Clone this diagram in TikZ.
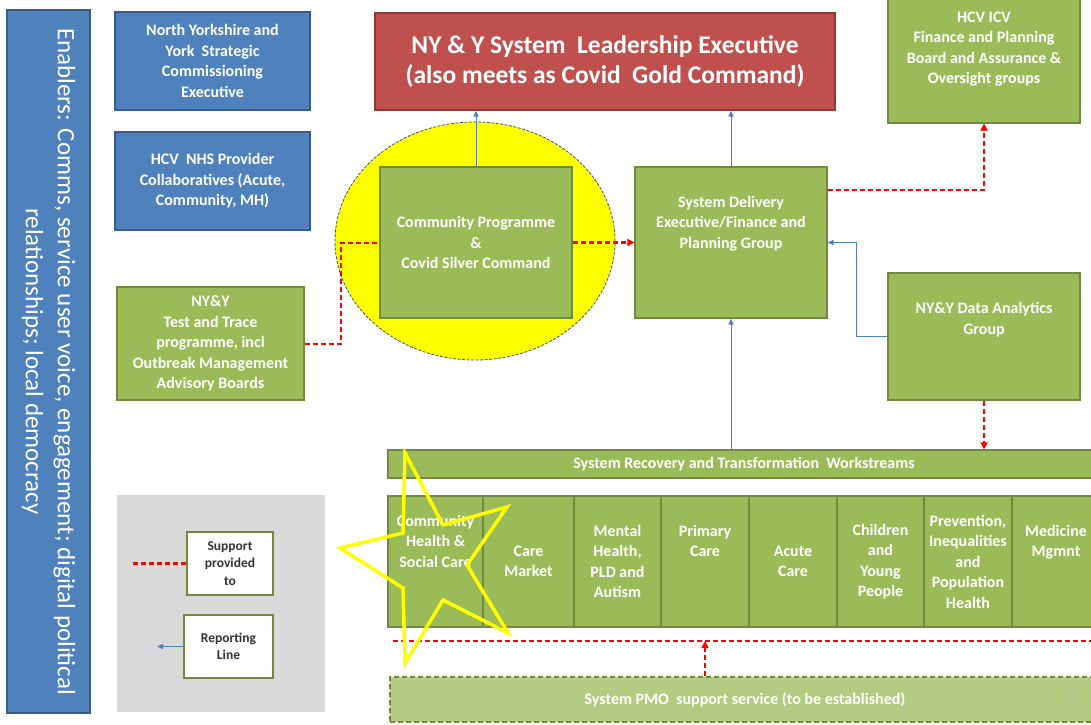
\documentclass[tikz,border=0pt]{standalone}
\usepackage{fontspec}
\setmainfont{Carlito}
\usetikzlibrary{arrows.meta,calc,shapes.geometric}

\definecolor{blfill}{HTML}{4F81BD}
\definecolor{blline}{HTML}{385D8A}
\definecolor{rdfill}{HTML}{C0504D}
\definecolor{rdline}{HTML}{8C3836}
\definecolor{grfill}{HTML}{9BBB59}
\definecolor{grline}{HTML}{71893F}
\definecolor{pmofill}{HTML}{B3CC82}
\definecolor{legfill}{HTML}{D9D9D9}
\definecolor{supred}{HTML}{FF0000}
\definecolor{ringline}{HTML}{44546A}
\definecolor{starline}{HTML}{FFFF00}

\tikzset{
  box/.style={rectangle, inner sep=0pt, align=center, text=white, line width=1.2pt,
    font=\bfseries\fontsize{16}{20.5}\selectfont},
  bluebox/.style={box, fill=blfill, draw=blline},
  greenbox/.style={box, fill=grfill, draw=grline},
  redbox/.style={box, fill=rdfill, draw=rdline, font=\bfseries\fontsize{25.5}{30}\selectfont},
  keybox/.style={box, fill=white, draw=grline, line width=1.6pt, text=black!80,
    font=\bfseries\fontsize{13.5}{17.5}\selectfont},
  report/.style={draw=blfill, line width=0.9pt, -{Triangle[length=6pt,width=5pt]}},
  support/.style={draw=supred, line width=2pt, dash pattern=on 5pt off 3pt},
  supportarrow/.style={support, -{Triangle[length=7pt,width=7pt]}},
}

\begin{document}
\begin{tikzpicture}[x=1pt,y=-1pt]
\clip (0,0) rectangle (1091,724);
\fill[white] (0,0) rectangle (1091,724);

% enablers column
\node[bluebox, minimum width=83, minimum height=703] (enab) at (48.5,361.5) {};
\node[rotate=-90, text=white, align=center, font=\fontsize{25}{32}\selectfont] (enabtext) at (enab.center)
  {Enablers: Comms, service user voice, engagement; digital political\\relationships; local democracy};

% commissioning and provider boxes
\node[bluebox, minimum width=195, minimum height=98] (nysc) at (212.5,61)
  {North Yorkshire and\\York\ \ Strategic\\Commissioning\\Executive};
\node[bluebox, minimum width=195, minimum height=98] (hcvnhs) at (212.5,181)
  {HCV\ \ NHS Provider\\Collaboratives (Acute,\\Community, MH)};

% leadership executive
\node[redbox, minimum width=460, minimum height=97] (lead) at (605,61.5)
  {NY \& Y System\ \ Leadership Executive\\(also meets as Covid\ \ Gold Command)};

% ICV board
\node[greenbox, minimum width=192, minimum height=148] (icv) at (984,49)
  {HCV ICV\\Finance and Planning\\Board and Assurance \&\\Oversight groups};

% silver command ring
\node[ellipse, fill=starline, draw=ringline, line width=0.8pt, dash pattern=on 3pt off 1.5pt,
  minimum width=280, minimum height=238, inner sep=0pt] (ring) at (475,241) {};
\node[greenbox, minimum width=192, minimum height=151] (cp) at (476,242.5)
  {Community Programme\\\&\\Covid Silver Command};

% system delivery
\node[greenbox, minimum width=192, minimum height=151] (sd) at (731,242.5)
  {System Delivery\\Executive/Finance and\\Planning Group\\[20pt]};

% data analytics
\node[greenbox, minimum width=192, minimum height=127] (da) at (984,336.5)
  {NY\&Y Data Analytics\\Group\\[16pt]};

% test and trace
\node[greenbox, minimum width=187, minimum height=113] (tt) at (210.5,343.5)
  {NY\&Y\\Test and Trace\\programme, incl\\Outbreak Management\\Advisory Boards};

% workstreams bar
\node[greenbox, minimum width=712, minimum height=28] (ws) at (744,464)
  {System Recovery and Transformation\ \ Workstreams};

% workstream columns
\node[greenbox, minimum width=95, minimum height=131] (w1) at (435.5,561.5) {Community\\Health \&\\Social Care\\[20.5pt]};
\node[greenbox, minimum width=91, minimum height=131] (w2) at (528.5,561.5) {Care\\Market};
\node[greenbox, minimum width=87, minimum height=131] (w3) at (617.5,561.5) {Mental\\Health,\\PLD and\\Autism};
\node[greenbox, minimum width=88, minimum height=131] (w4) at (705,561.5) {Primary\\Care\\[20.5pt]};
\node[greenbox, minimum width=88, minimum height=131] (w5) at (793,561.5) {Acute\\Care};
\node[greenbox, minimum width=87, minimum height=131] (w6) at (880.5,561.5) {Children\\and\\Young\\People};
\node[greenbox, minimum width=88, minimum height=131] (w7) at (968,561.5) {Prevention,\\Inequalities\\and\\Population\\Health};
\node[greenbox, minimum width=88, minimum height=131] (w8) at (1056,561.5) {Medicine\\Mgmnt\\[20.5pt]};

% PMO support service
\node[box, fill=pmofill, draw=grline, line width=1.6pt, dash pattern=on 5pt off 3pt,
  minimum width=710, minimum height=45] (pmo) at (745,699.5)
  {System PMO\ \ support service (to be established)};
\node[text=black!25, font=\fontsize{16}{18}\selectfont] (pagenum) at (1072,697) {2};

% support line beneath the workstreams
\coordinate (linel) at (393,641);
\coordinate (liner) at (1100,641);
\coordinate (pmotap) at (705,641);
\draw[support, line width=2.6pt] (linel) -- (liner);
\draw[supportarrow] (pmo.north -| pmotap) -- (pmotap);

% reporting lines
\draw[report] (cp.north) -- (cp.north |- lead.south);
\draw[report] (sd.north) -- (sd.north |- lead.south);
\draw[report] (sd.south |- ws.north) -- (sd.south);
\draw[report] (da.west) -- ++(-31,0) |- (sd.east);

% support lines
\draw[supportarrow, line width=2.6pt] (cp.east) -- (sd.west);
\draw[supportarrow] ([yshift=52.5pt]sd.east) -| (icv.south);
\draw[supportarrow] (da.south) -- (da.south |- ws.north);
\draw[support] (tt.east) -- ++(36,0) |- (cp.west);

% highlight star
\draw[starline, line width=3.5pt, line join=miter] (405,453) -- (443,525) -- (507,507) -- (467,565)
  -- (508,633) -- (443,600) -- (405,663) -- (403,588) -- (340,548) -- (403,533) -- cycle;

% key
\node[rectangle, fill=legfill, minimum width=208, minimum height=217, inner sep=0pt] (key) at (221,603.5) {};
\node[keybox, minimum width=86, minimum height=63] (keysup) at (230,563.5) {Support\\provided\\to};
\node[keybox, minimum width=89, minimum height=63] (keyrep) at (228.5,646.5) {Reporting\\Line};
\coordinate (keysupend) at (133,563.5);
\coordinate (keyrepend) at (157,646.5);
\draw[support, line width=2.6pt] (keysupend) -- (keysup.west);
\draw[report] (keyrep.west) -- (keyrepend);
\end{tikzpicture}
\end{document}
